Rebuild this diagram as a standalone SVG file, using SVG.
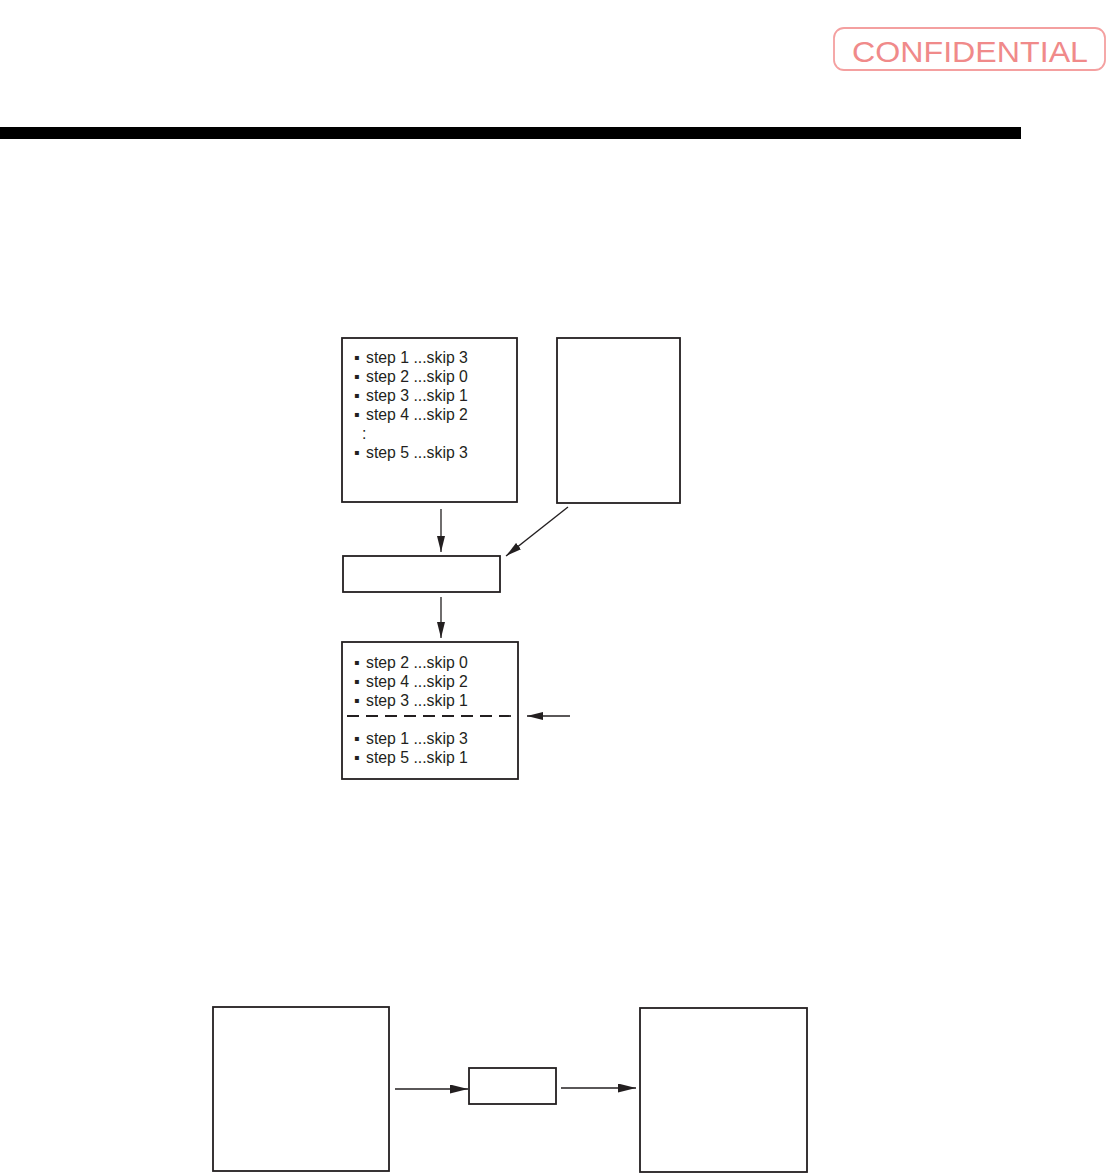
<svg xmlns="http://www.w3.org/2000/svg" width="1107" height="1175" viewBox="0 0 1107 1175">
<style>
.box{fill:#fff;stroke:#231f20;stroke-width:1.8}
.t{font-family:"Liberation Sans",Arial,sans-serif;font-size:15.8px;fill:#231f20}
.b{font-family:"DejaVu Sans",sans-serif;font-size:8px}
.c{stroke:#231f20;stroke-width:1.3;fill:none}
</style>
<defs>
<marker id="ah" viewBox="0 0 16 8" refX="16" refY="4" markerWidth="16" markerHeight="8" markerUnits="userSpaceOnUse" orient="auto"><path d="M0,0L16,4L0,8z" fill="#231f20"/></marker>
<marker id="ah2" viewBox="0 0 18 9" refX="18" refY="4.5" markerWidth="18" markerHeight="9" markerUnits="userSpaceOnUse" orient="auto"><path d="M0,0L18,4.5L0,9z" fill="#231f20"/></marker>
</defs>
<rect width="1107" height="1175" fill="#fff"/>
<g id="stamp">
<rect x="834" y="28" width="271" height="42" rx="10" fill="none" stroke="#f4a0a0" stroke-width="1.8"/>
<text x="970" y="62" text-anchor="middle" font-family="Liberation Sans,Arial,sans-serif" font-size="29" fill="#f08a8a" textLength="236" lengthAdjust="spacingAndGlyphs">CONFIDENTIAL</text>
</g>
<rect id="bar" x="0" y="127" width="1021" height="12" fill="#000"/>
<g id="list1">
<rect class="box" x="342" y="338" width="175" height="164"/>
<text class="t" y="363"><tspan class="b" x="354" dy="-3">▪</tspan><tspan x="366" dy="3">step 1 ...skip 3</tspan></text>
<text class="t" y="382"><tspan class="b" x="354" dy="-3">▪</tspan><tspan x="366" dy="3">step 2 ...skip 0</tspan></text>
<text class="t" y="401"><tspan class="b" x="354" dy="-3">▪</tspan><tspan x="366" dy="3">step 3 ...skip 1</tspan></text>
<text class="t" y="420"><tspan class="b" x="354" dy="-3">▪</tspan><tspan x="366" dy="3">step 4 ...skip 2</tspan></text>
<text class="t" x="362" y="439">:</text>
<text class="t" y="458"><tspan class="b" x="354" dy="-3">▪</tspan><tspan x="366" dy="3">step 5 ...skip 3</tspan></text>
</g>
<g id="sidebox"><rect class="box" x="557" y="338" width="123" height="165"/></g>
<g id="midbox"><rect class="box" x="343" y="556" width="157" height="36"/></g>
<g id="list2">
<rect class="box" x="342" y="642" width="176" height="137"/>
<text class="t" y="668"><tspan class="b" x="354" dy="-3">▪</tspan><tspan x="366" dy="3">step 2 ...skip 0</tspan></text>
<text class="t" y="687"><tspan class="b" x="354" dy="-3">▪</tspan><tspan x="366" dy="3">step 4 ...skip 2</tspan></text>
<text class="t" y="706"><tspan class="b" x="354" dy="-3">▪</tspan><tspan x="366" dy="3">step 3 ...skip 1</tspan></text>
<line x1="347" y1="716" x2="518" y2="716" stroke="#231f20" stroke-width="1.8" stroke-dasharray="12,7"/>
<text class="t" y="744"><tspan class="b" x="354" dy="-3">▪</tspan><tspan x="366" dy="3">step 1 ...skip 3</tspan></text>
<text class="t" y="763"><tspan class="b" x="354" dy="-3">▪</tspan><tspan x="366" dy="3">step 5 ...skip 1</tspan></text>
</g>
<g id="srcbox"><rect class="box" x="213" y="1007" width="176" height="164"/></g>
<g id="procbox"><rect class="box" x="469" y="1068" width="87" height="36" stroke-width="1.2"/></g>
<g id="dstbox"><rect class="box" x="640" y="1008" width="167" height="164"/></g>
<g id="connectors">
<line class="c" x1="441" y1="509" x2="441" y2="552" marker-end="url(#ah)"/>
<line class="c" x1="568" y1="507" x2="506" y2="556" marker-end="url(#ah)"/>
<line class="c" x1="441" y1="597" x2="441" y2="638" marker-end="url(#ah)"/>
<line class="c" x1="570" y1="716" x2="527" y2="716" marker-end="url(#ah)"/>
<line class="c" x1="395" y1="1089" x2="468" y2="1089" stroke-width="2.8" marker-end="url(#ah2)"/>
<line class="c" x1="561" y1="1088" x2="636" y2="1088" marker-end="url(#ah2)"/>
</g>
</svg>
